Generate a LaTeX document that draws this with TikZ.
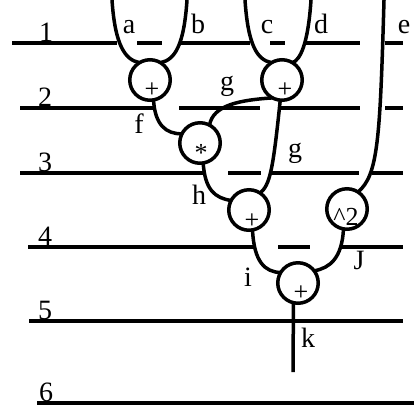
\documentclass[tikz,border=0pt]{standalone}
\usepackage{fontspec}
\setmainfont{Liberation Serif}
\begin{document}
\begin{tikzpicture}[x=1pt,y=-1pt,
  wire/.style={line width=3.5pt},
  rule/.style={line width=3.5pt},
  op/.style={circle,draw,line width=3.5pt,minimum size=40.5pt,inner sep=0pt,outer sep=0pt},
  lab/.style={font=\fontsize{28}{28}\selectfont,inner sep=0pt,anchor=base},
  sym/.style={font=\fontsize{26}{26}\selectfont,inner sep=0pt,anchor=base}]
\useasboundingbox (0,0) rectangle (414,408);

% horizontal rules
\draw[rule] (12,43) -- (117,43) (137,43) -- (162,43) (181,43) -- (250,43)
  (270,43) -- (285,43) (305,43) -- (360,43) (385,43) -- (403,43);
\draw[rule] (20,108) -- (153,108) (179,108) -- (260,108) (280,108) -- (360,108) (385,108) -- (403,108);
\draw[rule] (20,173) -- (205,173) (228,173) -- (261,173) (272,173) -- (359,173) (372,173) -- (403,173);
\draw[rule] (28,247) -- (253,247) (278,247) -- (310,247) (342,247) -- (403,247);
\draw[rule] (29,321) -- (403,321);
\draw[rule] (37,403) -- (414,403);

% operator circles
\node[op] (A) at (150,80) {};
\node[op] (B) at (282,80) {};
\node[op] (S) at (200,143) {};
\node[op] (H) at (249,210) {};
\node[op] (Q) at (347,209) {};
\node[op] (K) at (298,283) {};

\node[sym] (sA) at (152,97) {+};
\node[sym] (sB) at (285,97) {+};
\node[sym] (sS) at (201,161) {*};
\node[sym] (sH) at (252,228) {+};
\node[sym] (sQ) at (346,225) {\^{}2};
\node[sym] (sK) at (301,300) {+};

% free ends
\coordinate (ta) at (112,0);
\coordinate (tb) at (187,0);
\coordinate (tc) at (245,0);
\coordinate (td) at (311,0);
\coordinate (te) at (384,0);
\coordinate (tk) at (293,372);

% connectors
\draw[wire] (ta) .. controls (115,45) and (125,60) .. (A.121);
\draw[wire] (tb) .. controls (184,45) and (175,60) .. (A.59);
\draw[wire] (tc) .. controls (248,45) and (257,60) .. (B.121);
\draw[wire] (td) .. controls (308,45) and (300,60) .. (B.59);
\draw[wire] (te) .. controls (380,140) and (378,175) .. (Q.57);
\draw[wire] (A.-80) .. controls (155,125) and (166,134) .. (S.153);
\draw[wire] (B.-118) .. controls (240,100) and (213,105) .. (S.62);
\draw[wire] (B.-95) .. controls (273,170) and (270,185) .. (H.57);
\draw[wire] (S.-81) .. controls (205,190) and (215,198) .. (H.152);
\draw[wire] (H.-80) .. controls (254,262) and (265,272) .. (K.149);
\draw[wire] (Q.-100) .. controls (342,258) and (330,268) .. (K.37);
\draw[wire] (K.-103) -- (tk);

% labels
\node[lab] (la) at (129,33) {a};
\node[lab] (lb) at (198,33) {b};
\node[lab] (lc) at (267,33) {c};
\node[lab] (ld) at (321,33) {d};
\node[lab] (le) at (404,33) {e};
\node[lab] (lf) at (139,133) {f};
\node[lab] (lg1) at (227,90) {g};
\node[lab] (lg2) at (295,157) {g};
\node[lab] (lh) at (199,204) {h};
\node[lab] (li) at (248,286) {i};
\node[lab] (lJ) at (359,269) {J};
\node[lab] (lk) at (308,347) {k};

\node[lab] (n1) at (46,41) {1};
\node[lab] (n2) at (45,106) {2};
\node[lab] (n3) at (45,171) {3};
\node[lab] (n4) at (45,245) {4};
\node[lab] (n5) at (45,319) {5};
\node[lab] (n6) at (46,401) {6};
\end{tikzpicture}
\end{document}
